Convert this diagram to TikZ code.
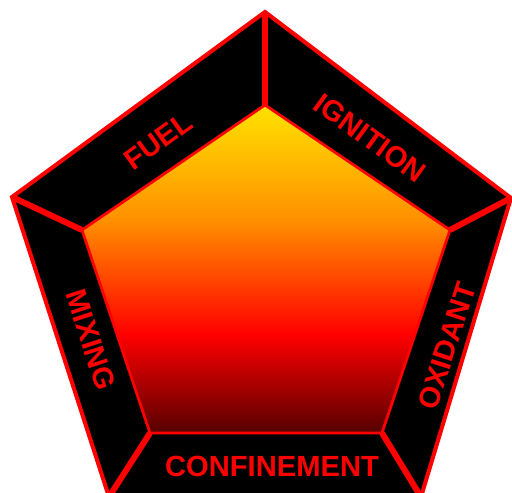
\documentclass[tikz,border=0pt]{standalone}
\usepackage{fontspec}
\setmainfont{Liberation Sans}
\definecolor{deepred}{HTML}{560000}
\definecolor{firered}{HTML}{FF0000}
\definecolor{fireorange}{HTML}{FF9000}
\definecolor{fireyellow}{HTML}{FFE200}
\pgfdeclareverticalshading{fireshade}{100bp}{color(0bp)=(deepred); color(25bp)=(deepred);
  color(40bp)=(firered); color(57.5bp)=(fireorange); color(75bp)=(fireyellow); color(100bp)=(fireyellow)}

\begin{document}
\begin{tikzpicture}[
  x=0.02cm, y=-0.02cm,
  rim/.style={draw=red, line width=2.3pt},
  sep/.style={draw=red, line width=3.4pt},
  core/.style={draw=red, line width=1.6pt, shading=fireshade},
  lbl/.style={font=\fontsize{16.6}{18}\selectfont\bfseries, text=red, inner sep=0pt}]
\useasboundingbox (0,0) rectangle (512,493);
\clip (0,0) rectangle (512,493);
% outer and inner corners
\coordinate (o1) at (265,12);
\coordinate (o2) at (511,198);
\coordinate (o3) at (421,497);
\coordinate (o4) at (109,497);
\coordinate (o5) at (12,197);
\coordinate (i1) at (265,105);
\coordinate (i2) at (450,230);
\coordinate (i3) at (382,433);
\coordinate (i4) at (150,433);
\coordinate (i5) at (82,230);
\draw[rim, fill=black] (o1) -- (o2) -- (o3) -- (o4) -- (o5) -- cycle;
\foreach \k in {1,...,5}{\draw[sep] (i\k) -- (o\k);}
\draw[core] (i1) -- (i2) -- (i3) -- (i4) -- (i5) -- cycle;
% band labels
\node[lbl, rotate=36] (fuel) at (158,141) {FUEL};
\node[lbl, rotate=-36] (ignition) at (370,138) {IGNITION};
\node[lbl, rotate=72] (oxidant) at (447,346) {OXIDANT};
\node[lbl, rotate=-72] (mixing) at (91,340) {MIXING};
\node[lbl] (confinement) at (272,466) {CONFINEMENT};
\end{tikzpicture}
\end{document}
